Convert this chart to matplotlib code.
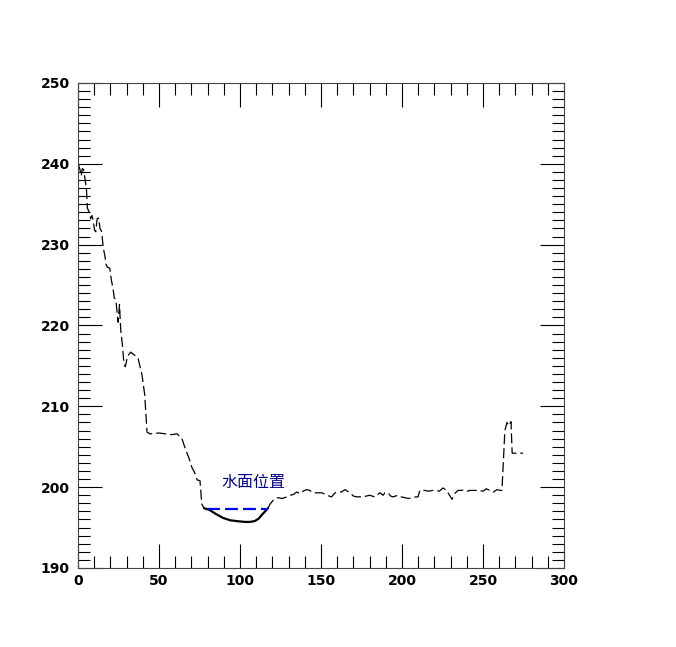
import matplotlib
matplotlib.use("Agg")
import matplotlib.pyplot as plt
from matplotlib.ticker import MultipleLocator

# Left bank profile (dashed)
left_x = [0, 1.2, 2.0, 2.6, 3.4, 4.2, 5.2, 5.8, 7.0, 7.8, 8.6, 9.4, 10.2, 11.0, 11.8,
          12.8, 13.6, 14.6, 15.6, 16.6, 17.4, 18.2, 19.6, 20.6, 21.6, 22.4, 23.4, 24.2,
          24.8, 25.6, 26.4, 27.4, 28.4, 29.2, 30.6, 32.5, 34.5, 37.0, 39.5, 41.2, 42.6,
          44.5, 50, 54, 58, 61, 64, 66.5, 68.5, 70.4, 72, 73.5, 75.3, 76.4, 77.8]
left_y = [240.1, 239.3, 238.5, 239.4, 239.3, 238.3, 236.9, 234.5, 234.0, 233.2, 233.6,
          233.0, 231.8, 231.6, 233.2, 233.3, 232.0, 231.6, 229.6, 228.6, 227.5, 227.2,
          227.1, 225.6, 224.6, 223.4, 223.2, 221.4, 220.4, 222.6, 219.4, 217.6, 215.2,
          214.9, 216.2, 216.7, 216.4, 216.0, 213.9, 211.4, 206.8, 206.6, 206.7, 206.6,
          206.5, 206.6, 206.1, 204.6, 203.6, 202.4, 201.8, 200.9, 200.8, 197.9, 197.4]

# Riverbed under water (solid)
bed_x = [77.8, 81, 85, 89.5, 94, 98, 103, 106, 109, 111.5, 113.6, 115.5, 117.3]
bed_y = [197.4, 197.2, 196.7, 196.2, 195.9, 195.8, 195.7, 195.7, 195.8, 196.1, 196.6,
         197.0, 197.4]

# Water surface
water_x = [79.6, 117.3]
water_y = [197.3, 197.3]
water_label = "水面位置"

# Right bank profile (dashed)
right_x = [117.3, 118.5, 121, 123.5, 126, 129, 131, 133, 135, 137,
           139, 141, 143, 145, 148, 150.6, 153.5, 156.5, 158.6, 160.6,
           162.5, 164.8, 167.9, 170, 172, 174, 176, 178, 180, 181.5,
           183.3, 185, 186.4, 188.3, 189.5, 191.4, 193, 194.4, 196, 197.5,
           199.5, 201.8, 204, 206.8, 208.5, 209.9, 211, 214, 216.5, 219,
           221, 223, 225.3, 227.5, 229, 230.9, 232.5, 234.6, 236.5, 238.9,
           240.5, 242, 245, 247.5, 250, 252, 254.3, 256.5, 258.6, 260.5,
           261.7, 263.5, 264.8, 266.0, 267.3, 268.0, 270, 274.7]
right_y = [197.4, 197.9, 198.5, 198.7, 198.6, 198.8, 199.0, 199.1, 199.4, 199.2,
           199.5, 199.7, 199.6, 199.3, 199.3, 199.3, 199.0, 198.8, 199.3, 199.4,
           199.4, 199.7, 199.3, 198.9, 198.8, 198.8, 198.8, 198.9, 199.0, 198.9,
           198.8, 199.1, 199.3, 199.0, 199.3, 199.3, 198.9, 198.8, 198.9, 199.0,
           198.8, 198.7, 198.6, 198.7, 198.8, 198.8, 199.6, 199.6, 199.5, 199.6,
           199.6, 199.5, 199.9, 199.6, 199.1, 198.5, 199.2, 199.6, 199.6, 199.7,
           199.5, 199.6, 199.6, 199.6, 199.5, 199.8, 199.6, 199.4, 199.7, 199.6,
           199.6, 207.0, 208.0, 207.6, 208.1, 204.2, 204.2, 204.2]

fig = plt.figure(figsize=(6.76, 6.47), dpi=100)
ax = fig.add_axes([78 / 676, 1 - 568 / 647, 486 / 676, 485 / 647])

dash = (0, (8, 3.2))
ax.plot(left_x, left_y, color="black", lw=0.9, linestyle=dash)
ax.plot(right_x, right_y, color="black", lw=0.9, linestyle=dash)
ax.plot(bed_x, bed_y, color="black", lw=1.6, solid_capstyle="round")
ax.plot(water_x, water_y, color="blue", lw=1.6, linestyle=(0, (5.8, 2.3)))
ax.text(108, 200.6, water_label, color="#00008B", fontsize=11.5,
        ha="center", va="center", family=["Noto Sans CJK SC", "DejaVu Sans"])

ax.set_xlim(0, 300)
ax.set_ylim(190, 250)
ax.xaxis.set_major_locator(MultipleLocator(50))
ax.xaxis.set_minor_locator(MultipleLocator(10))
ax.yaxis.set_major_locator(MultipleLocator(10))
ax.yaxis.set_minor_locator(MultipleLocator(1))
ax.tick_params(which="both", direction="in", top=True, right=True, color="black")
ax.tick_params(which="major", length=17, width=0.8)
ax.tick_params(which="minor", length=8.5, width=0.8)
ax.tick_params(axis="x", pad=4)
ax.tick_params(axis="y", pad=6)
for s in ax.spines.values():
    s.set_linewidth(0.8)
    s.set_color("#444444")
for lab in ax.get_xticklabels() + ax.get_yticklabels():
    lab.set_fontweight("bold")
    lab.set_fontsize(10)
    lab.set_family("DejaVu Sans")

fig.savefig("out.png", dpi=100)
